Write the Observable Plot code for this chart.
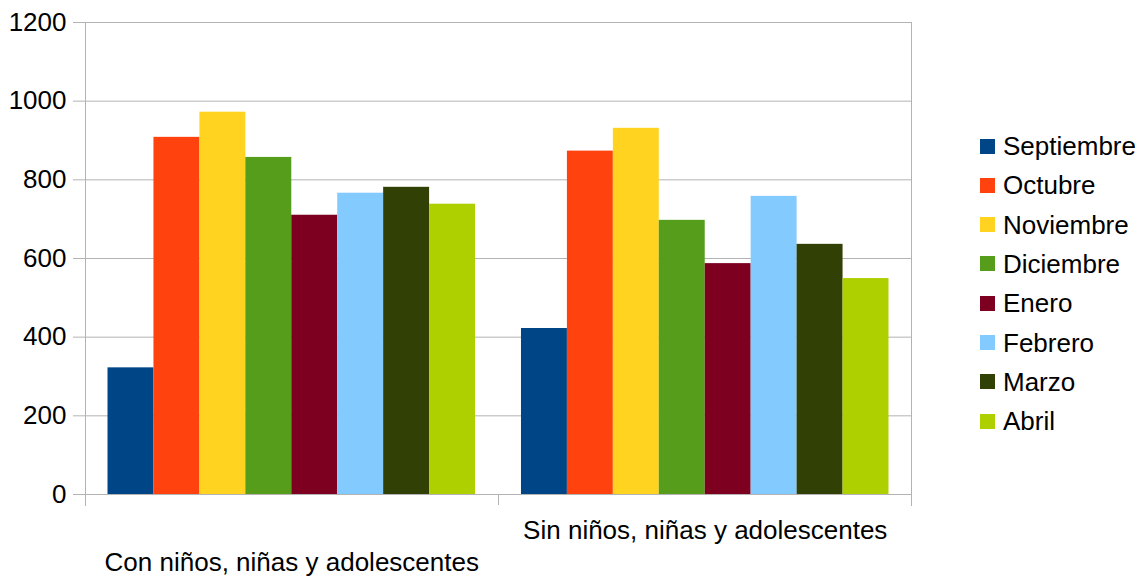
<!DOCTYPE html>
<html><head><meta charset="utf-8">
<script src="https://cdn.jsdelivr.net/npm/d3@7"></script>
<script src="https://cdn.jsdelivr.net/npm/@observablehq/plot@0.6"></script>
<style>
body{margin:0;background:#fff;font-family:"Liberation Sans",Arial,sans-serif;}
#wrap{position:relative;width:1140px;height:576px;overflow:hidden;}
#legend{position:absolute;left:980px;top:126.4px;}
.item{display:flex;align-items:center;height:39.3px;font-size:26px;color:#000;line-height:1;}
.sw{width:15px;height:15px;margin-right:8px;flex:none;}
</style></head><body><div id="wrap"><div id="chart"></div><div id="legend"></div></div>
<script>
const groups = ["Con niños, niñas y adolescentes", "Sin niños, niñas y adolescentes"];
const months = ["Septiembre","Octubre","Noviembre","Diciembre","Enero","Febrero","Marzo","Abril"];
const conValues = [322, 908, 972, 857, 710, 766, 781, 738];
const sinValues = [422, 873, 931, 697, 587, 758, 636, 549];
const colors = ["#004586","#ff420e","#ffd320","#579d1c","#7e0021","#83caff","#314004","#aecf00"];
const yTicks = [0, 200, 400, 600, 800, 1000, 1200];

const key = (g, m) => g + "|" + m;
const gapKey = "gap";
const keys = [...months.map(m => key(groups[0], m)), gapKey, ...months.map(m => key(groups[1], m))];
const data = [];
[conValues, sinValues].forEach((vals, gi) => vals.forEach((v, mi) => data.push({group: groups[gi], month: months[mi], key: key(groups[gi], months[mi]), value: v})));

const W = 1140, H = 576, ML = 85, MR = 229, MT = 22, MB = 82;
const padOuter = 0.49;
const bw = (W - ML - MR) / (keys.length + 2 * padOuter);
const grid = "#b3b3b3";

const plot = Plot.plot({
  width: W, height: H,
  marginLeft: ML, marginRight: MR, marginTop: MT, marginBottom: MB,
  style: {fontFamily: '"Liberation Sans", Arial, sans-serif', fontSize: "26px", background: "#fff", color: "#000", overflow: "visible"},
  x: {type: "band", domain: keys, paddingInner: 0, paddingOuter: padOuter, round: false, axis: null, label: null},
  y: {domain: [0, 1200], axis: null, label: null},
  color: {domain: months, range: colors},
  marks: [
    Plot.ruleY(yTicks, {stroke: grid, strokeOpacity: 1}),
    Plot.frame({anchor: "left", stroke: grid, strokeOpacity: 1, insetBottom: -11}),
    Plot.frame({anchor: "right", stroke: grid, strokeOpacity: 1, insetBottom: -11}),
    Plot.ruleX([gapKey], {x: d => d, y1: 0, y2: 0, insetBottom: -11, stroke: grid, strokeOpacity: 1}),
    Plot.axisY({ticks: yTicks, tickSize: 12, tickPadding: 7, stroke: grid, strokeOpacity: 1, fill: "#000", fontSize: 26, label: null, tickFormat: d => String(d)}),
    Plot.barY(data, {x: "key", y: "value", fill: "month"}),
    Plot.text([groups[0]], {x: d => key(d, months[4]), text: d => d, dx: -bw / 2, frameAnchor: "bottom", dy: 76, lineAnchor: "bottom", fill: "#000", fontSize: 26}),
    Plot.text([groups[1]], {x: d => key(d, months[4]), text: d => d, dx: -bw / 2, frameAnchor: "bottom", dy: 44, lineAnchor: "bottom", fill: "#000", fontSize: 26})
  ]
});
document.getElementById("chart").appendChild(plot);

const legend = document.getElementById("legend");
months.forEach((m, i) => {
  const item = document.createElement("div");
  item.className = "item";
  const sw = document.createElement("span");
  sw.className = "sw";
  sw.style.background = colors[i];
  const t = document.createElement("span");
  t.textContent = m;
  item.appendChild(sw); item.appendChild(t);
  legend.appendChild(item);
});
</script>
</body></html>
